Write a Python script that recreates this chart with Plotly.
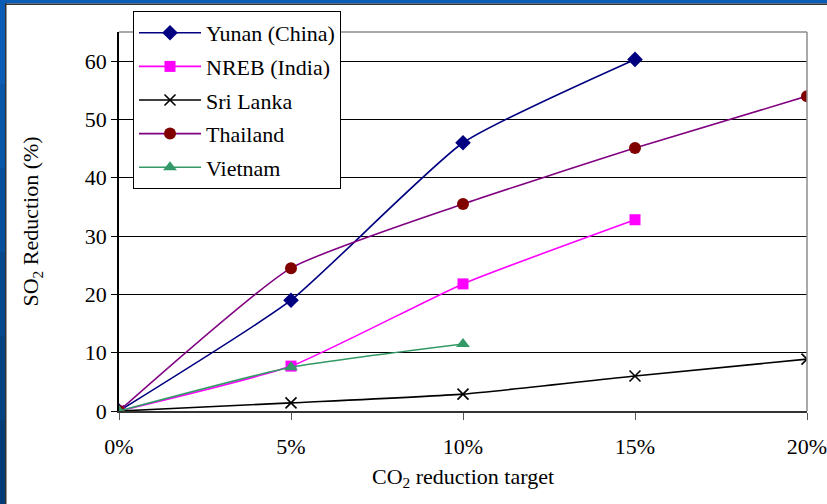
import plotly.graph_objects as go

x_labels = ["0%", "5%", "10%", "15%", "20%"]
x_vals = [0, 5, 10, 15, 20]

yunan_x = [0, 5, 10, 15]
yunan_y = [0, 19.0, 46.0, 60.3]
nreb_x = [0, 5, 10, 15]
nreb_y = [0, 7.7, 21.8, 32.8]
srilanka_x = [0, 5, 10, 15, 20]
srilanka_y = [0, 1.4, 2.9, 6.0, 8.9]
thailand_x = [0, 5, 10, 15, 20]
thailand_y = [0, 24.5, 35.5, 45.1, 54.0]
vietnam_x = [0, 5, 10]
vietnam_y = [0, 7.5, 11.5]

W, H = 827, 504
L, R, T, B = 119, 20, 32, 93
PW, PH = W - L - R, H - T - B

def px(x):
    return (x - L) / PW

def py(y):
    return (H - B - y) / PH

FONT = "Liberation Serif"
FS = 22

fig = go.Figure()

def add(name, xs, ys, color, symbol, mcolor=None, size=11, mline=0):
    fig.add_trace(go.Scatter(
        x=xs, y=ys, name=name, legendgroup=name, mode="lines+markers",
        line=dict(color=color, width=1.6, shape="spline", smoothing=0.5),
        marker=dict(symbol=symbol, size=size, color=mcolor or color,
                    line=dict(width=mline, color=mcolor or color)),
    ))

add("Yunan (China)", yunan_x, yunan_y, "#000080", "diamond", size=12)
add("NREB (India)", nreb_x, nreb_y, "#FF00FF", "square", size=11)
add("Sri Lanka", srilanka_x, srilanka_y, "#000000", "x-thin", size=11, mline=1.6)
add("Thailand", thailand_x, thailand_y, "#800080", "circle", mcolor="#800000", size=12)
add("Vietnam", vietnam_x, vietnam_y, "#339966", "triangle-up", size=12)

shapes = []
shapes.append(dict(type="line", xref="paper", yref="paper", x0=0, x1=1, y0=1, y1=1,
                   line=dict(color="#8c8c8c", width=1.5)))
shapes.append(dict(type="line", xref="paper", yref="paper", x0=1, x1=1, y0=0, y1=1,
                   line=dict(color="#8c8c8c", width=1.5)))
blues = ["#0a5cb4", "#0856aa", "#064f9c", "#05488e", "#044282", "#033c76"]
n = len(blues)
for i, c in enumerate(blues):
    y0 = H * i / n
    y1 = H * (i + 1) / n
    shapes.append(dict(type="rect", xref="paper", yref="paper",
                       x0=px(0), x1=px(5), y0=py(y1), y1=py(y0),
                       fillcolor=c, line=dict(width=0), layer="above"))
shapes.append(dict(type="rect", xref="paper", yref="paper",
                   x0=px(5), x1=px(6.5), y0=py(H), y1=py(3),
                   fillcolor="#333333", line=dict(width=0), layer="above"))
shapes.append(dict(type="rect", xref="paper", yref="paper",
                   x0=px(0), x1=px(W), y0=py(3.5), y1=py(0),
                   fillcolor="#0a5cb4", line=dict(width=0), layer="above"))
shapes.append(dict(type="rect", xref="paper", yref="paper",
                   x0=px(5), x1=px(W), y0=py(5), y1=py(3.5),
                   fillcolor="#333333", line=dict(width=0), layer="above"))

fig.update_layout(
    width=W, height=H,
    margin=dict(l=L, r=R, t=T, b=B, pad=0, autoexpand=False),
    paper_bgcolor="white", plot_bgcolor="white",
    font=dict(family=FONT, size=FS, color="black"),
    shapes=shapes,
    showlegend=True,
    legend=dict(
        x=px(133), y=py(11), xanchor="left", yanchor="top",
        bgcolor="white", bordercolor="black", borderwidth=1,
        font=dict(family=FONT, size=FS, color="black"),
        itemwidth=62, tracegroupgap=2,
    ),
    xaxis=dict(
        range=[0, 20], tickmode="array", tickvals=x_vals, ticktext=x_labels,
        showgrid=False, zeroline=False, showline=True, linecolor="#333333", linewidth=1.5,
        ticks="outside", ticklen=7, tickcolor="#555555", tickwidth=1,
        tickfont=dict(family=FONT, size=FS), ticklabelstandoff=8, automargin=False,
        ticklabeloverflow="allow",
        title=dict(text="CO<sub>2</sub> reduction target", font=dict(family=FONT, size=FS), standoff=10),
    ),
    yaxis=dict(
        range=[0, 65], tickmode="array", tickvals=[0, 10, 20, 30, 40, 50, 60],
        showgrid=True, gridcolor="#000000", gridwidth=1,
        zeroline=False, showline=True, linecolor="#000000", linewidth=1.5,
        ticks="outside", ticklen=6, tickcolor="#000000",
        tickfont=dict(family=FONT, size=FS), ticklabelstandoff=0, automargin=False,
        title=dict(text="SO<sub>2</sub> Reduction (%)", font=dict(family=FONT, size=FS), standoff=40),
    ),
)

fig.write_html("out.html", config={"displayModeBar": False},
               post_script="document.body.style.margin='0';")
